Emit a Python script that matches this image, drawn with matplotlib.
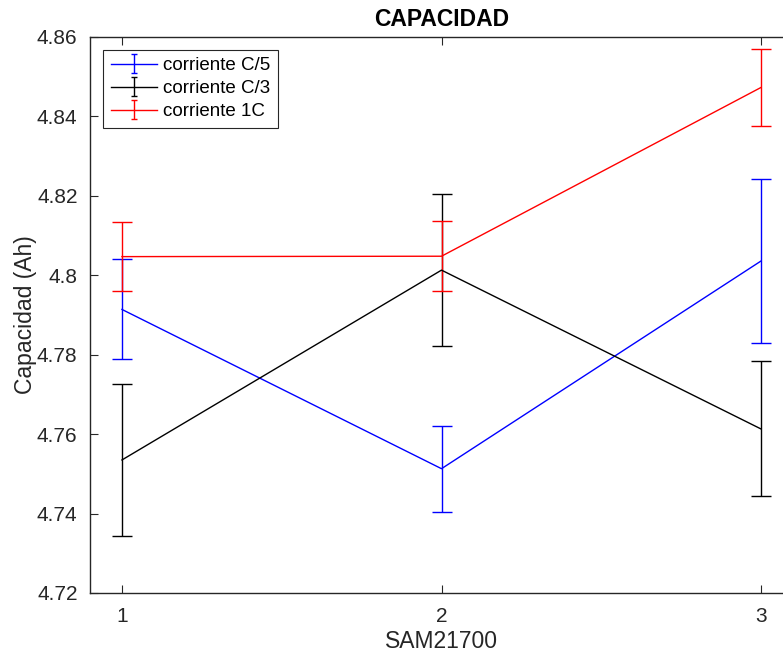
import matplotlib
matplotlib.use("Agg")
import matplotlib.pyplot as plt
from matplotlib.lines import Line2D

plt.rcParams['font.family'] = ['Liberation Sans', 'DejaVu Sans']

x = [1, 2, 3]
series_names = ["corriente C/5", "corriente C/3", "corriente 1C"]
cap_c5 = [4.7914, 4.7513, 4.8036]
err_c5 = [0.0126, 0.0108, 0.0207]
cap_c3 = [4.7535, 4.8013, 4.7613]
err_c3 = [0.0191, 0.0191, 0.0170]
cap_1c = [4.8047, 4.8048, 4.8473]
err_1c = [0.0087, 0.0088, 0.0096]
y_ticks = [4.72, 4.74, 4.76, 4.78, 4.80, 4.82, 4.84, 4.86]
y_tick_labels = ["4.72", "4.74", "4.76", "4.78", "4.8", "4.82", "4.84", "4.86"]

axis_col = (0.15, 0.15, 0.15)

fig = plt.figure(figsize=(7.83, 6.53), dpi=100)
ax = fig.add_axes([90 / 783, 60 / 653, 703 / 783, 556 / 653])

for vals, errs, col, name in [(cap_c5, err_c5, (0, 0, 1), series_names[0]),
                              (cap_c3, err_c3, (0, 0, 0), series_names[1]),
                              (cap_1c, err_1c, (1, 0, 0), series_names[2])]:
    ax.errorbar(x, vals, yerr=errs, color=col, lw=1.0, elinewidth=1.0,
                capsize=7, capthick=1.0, label=name)

ax.set_xlim(0.9, 3.1)
ax.set_ylim(4.72, 4.86)
ax.set_xticks(x)
ax.set_xticklabels(["1", "2", "3"])
ax.set_yticks(y_ticks)
ax.set_yticklabels(y_tick_labels)

ax.tick_params(direction='in', length=6, width=0.8, colors=axis_col,
               labelsize=15, top=True, right=True)
ax.tick_params(axis='x', pad=10)
ax.tick_params(axis='y', pad=9)
for sp in ax.spines.values():
    sp.set_color(axis_col)
    sp.set_linewidth(1.0)

ax.set_title("CAPACIDAD", fontsize=16.5, fontweight='bold', color='black', pad=8)
ax.set_xlabel("SAM21700", fontsize=16.5, color=axis_col, labelpad=3)
ax.set_ylabel("Capacidad (Ah)", fontsize=16.5, color=axis_col, labelpad=0)

leg = ax.legend(loc='upper left', bbox_to_anchor=(0.0185, 0.977), fontsize=13.5,
                frameon=True, fancybox=False, framealpha=1, edgecolor=axis_col,
                borderpad=0.4, labelspacing=0.31, handlelength=2.5,
                handletextpad=0.32, borderaxespad=0)
leg.get_frame().set_linewidth(0.8)
# smaller caps on the legend's error-bar symbols
for ln in leg.findobj(Line2D):
    if ln.get_marker() == '_':
        ln.set_markersize(5)

fig.savefig("out.png", dpi=100)
